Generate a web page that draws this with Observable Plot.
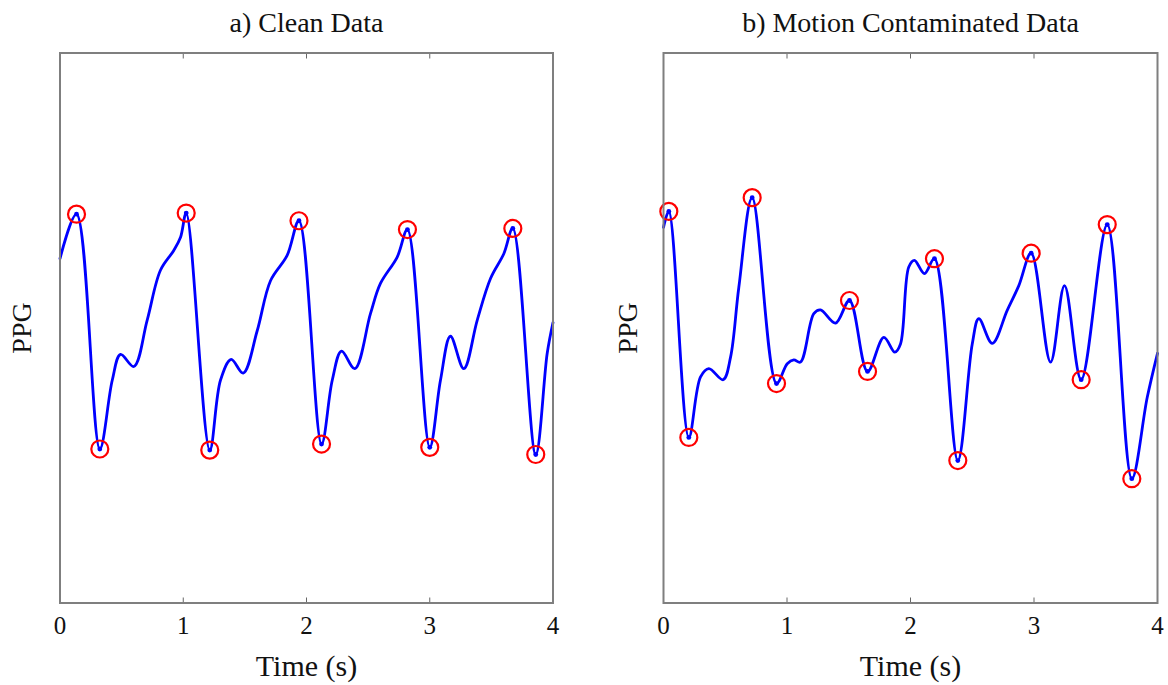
<!DOCTYPE html>
<html><head><meta charset="utf-8">
<script src="https://cdn.jsdelivr.net/npm/d3@7"></script>
<script src="https://cdn.jsdelivr.net/npm/@observablehq/plot@0.6"></script>
<style>
html,body{margin:0;padding:0;background:#fff;}
#wrap{display:flex;width:1168px;height:685px;overflow:hidden;}
#wrap svg{display:block;}
</style></head><body><div id="wrap"></div>
<script>
const timeTicks = [0, 1, 2, 3, 4];
const innerTicks = [1, 2, 3];
const cleanTitle = "a) Clean Data";
const motionTitle = "b) Motion Contaminated Data";
const xLabel = "Time (s)";
const yLabel = "PPG";

const cleanTime = [0.000, 0.134, 0.323, 0.424, 0.491, 0.599, 0.707, 0.815, 0.923, 0.978,
  1.024, 1.215, 1.302, 1.389, 1.486, 1.600, 1.708, 1.843, 1.939, 2.122,
  2.209, 2.284, 2.392, 2.519, 2.600, 2.736, 2.819, 3.000, 3.087, 3.168,
  3.276, 3.385, 3.493, 3.601, 3.674, 3.860, 3.953, 4.000];
const cleanPPG = [0.626, 0.707, 0.280, 0.405, 0.452, 0.430, 0.514, 0.605, 0.641, 0.665,
  0.709, 0.278, 0.405, 0.443, 0.418, 0.495, 0.586, 0.632, 0.695, 0.289,
  0.405, 0.458, 0.426, 0.526, 0.581, 0.629, 0.679, 0.283, 0.405, 0.485,
  0.426, 0.514, 0.590, 0.635, 0.681, 0.270, 0.454, 0.510];
const cleanMarks = [1, 2, 10, 11, 18, 19, 26, 27, 34, 35];

const motionTime = [0.000, 0.043, 0.205, 0.300, 0.367, 0.483, 0.543, 0.610, 0.718, 0.915,
  1.002, 1.055, 1.109, 1.217, 1.271, 1.393, 1.506, 1.652, 1.784, 1.873,
  1.919, 1.986, 2.032, 2.113, 2.194, 2.383, 2.500, 2.553, 2.662, 2.783,
  2.877, 2.977, 3.134, 3.247, 3.382, 3.593, 3.792, 3.917, 4.000];
const motionPPG = [0.683, 0.712, 0.301, 0.411, 0.426, 0.406, 0.447, 0.574, 0.737, 0.399,
  0.435, 0.442, 0.438, 0.526, 0.533, 0.509, 0.550, 0.421, 0.483, 0.456,
  0.471, 0.611, 0.623, 0.599, 0.626, 0.259, 0.471, 0.517, 0.472, 0.532,
  0.577, 0.636, 0.438, 0.577, 0.406, 0.688, 0.226, 0.374, 0.454];
const motionMarks = [1, 2, 8, 9, 16, 17, 24, 25, 31, 34, 35, 36];

const FONT = "'Liberation Serif', 'Times New Roman', Times, serif";

function panel({title, time, ppg, marks, marginLeft, marginRight, ppgDx}) {
  const data = time.map((t, i) => ({t, v: ppg[i]}));
  const pts = marks.map(i => data[i]);
  return Plot.plot({
    width: 584, height: 685,
    marginTop: 52.5, marginBottom: 82.5, marginLeft, marginRight,
    x: {domain: [0, 4], axis: null},
    y: {domain: [0, 1], axis: null},
    style: {fontFamily: FONT, background: "white", color: "#000", overflow: "visible"},
    marks: [
      Plot.axisX({ticks: timeTicks, tickSize: 0, tickPadding: 13, fontSize: 25, label: null, fill: "#111", tickFormat: d3.format("d")}),
      Plot.axisX({ticks: innerTicks, tickSize: -5, tickFormat: () => "", label: null, stroke: "#666"}),
      Plot.axisX({anchor: "top", ticks: innerTicks, tickSize: -5, tickFormat: () => "", label: null, stroke: "#666"}),
      Plot.line(data, {x: "t", y: "v", curve: "catmull-rom", stroke: "#0000ff", strokeWidth: 2.8}),
      Plot.dot(pts, {x: "t", y: "v", r: 2.4, fill: "#0000ff"}),
      Plot.dot(pts, {x: "t", y: "v", r: 8.5, stroke: "#ff0000", strokeWidth: 2.2, fill: "none"}),
      Plot.frame({stroke: "#7f7f7f", strokeWidth: 2}),
      Plot.text([title], {frameAnchor: "top", dy: -21, lineAnchor: "bottom", textAnchor: "middle", fontSize: 28, fill: "#111"}),
      Plot.text([xLabel], {frameAnchor: "bottom", dy: 52, lineAnchor: "top", textAnchor: "middle", fontSize: 30, fill: "#111"}),
      Plot.text([yLabel], {frameAnchor: "left", dx: ppgDx, rotate: -90, textAnchor: "middle", fontSize: 28, fill: "#111"})
    ]
  });
}

const wrap = document.getElementById("wrap");
wrap.append(panel({title: cleanTitle, time: cleanTime, ppg: cleanPPG, marks: cleanMarks,
  marginLeft: 59.5, marginRight: 31.5, ppgDx: -38}));
wrap.append(panel({title: motionTitle, time: motionTime, ppg: motionPPG, marks: motionMarks,
  marginLeft: 79, marginRight: 11, ppgDx: -35}));
</script>
</body></html>
